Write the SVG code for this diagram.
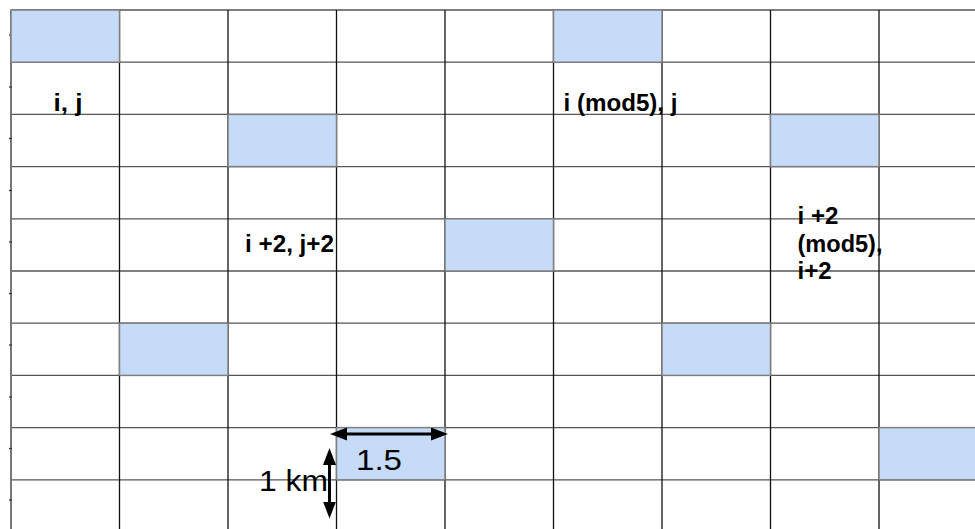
<svg xmlns="http://www.w3.org/2000/svg" width="975" height="529" viewBox="0 0 975 529">
<style>
.vl{stroke:#111;stroke-width:1.3}
.hl{stroke:#555;stroke-width:1.3}
.hi{fill:#c6dbf7;stroke:#808080;stroke-width:1.5}
.lbl{font-family:"Liberation Sans",Arial,sans-serif;font-weight:bold;font-size:23px;fill:#000}
.dim{font-family:"Liberation Sans",Arial,sans-serif;font-size:29px;fill:#000}
.arr{stroke:#000;stroke-width:3;fill:none}
.tick{stroke:#333;stroke-width:1.2}
</style>
<defs>
<marker id="ah" markerUnits="userSpaceOnUse" markerWidth="18" markerHeight="14" refX="9" refY="6.5" orient="auto-start-reverse">
<path d="M0,0 L17,6.5 L0,13 z" fill="#000"/>
</marker>
</defs>
<rect width="975" height="529" fill="#fff"/>
<g id="grid">
<line class="hl" x1="11" y1="10" x2="975" y2="10"/>
<line class="hl" x1="11" y1="62.2" x2="975" y2="62.2"/>
<line class="hl" x1="11" y1="114.4" x2="975" y2="114.4"/>
<line class="hl" x1="11" y1="166.6" x2="975" y2="166.6"/>
<line class="hl" x1="11" y1="218.8" x2="975" y2="218.8"/>
<line class="hl" x1="11" y1="271" x2="975" y2="271"/>
<line class="hl" x1="11" y1="323.2" x2="975" y2="323.2"/>
<line class="hl" x1="11" y1="375.4" x2="975" y2="375.4"/>
<line class="hl" x1="11" y1="427.6" x2="975" y2="427.6"/>
<line class="hl" x1="11" y1="479.8" x2="975" y2="479.8"/>
<line x1="11" y1="10" x2="11" y2="529" stroke="#777" stroke-width="2"/>
<line class="vl" x1="119.5" y1="10" x2="119.5" y2="529"/>
<line class="vl" x1="228" y1="10" x2="228" y2="529"/>
<line class="vl" x1="336.5" y1="10" x2="336.5" y2="529"/>
<line class="vl" x1="445" y1="10" x2="445" y2="529"/>
<line class="vl" x1="553.5" y1="10" x2="553.5" y2="529"/>
<line class="vl" x1="662" y1="10" x2="662" y2="529"/>
<line class="vl" x1="770.5" y1="10" x2="770.5" y2="529"/>
<line class="vl" x1="879" y1="10" x2="879" y2="529"/>
<line class="tick" x1="9" y1="35" x2="12" y2="35"/>
<line class="tick" x1="9" y1="87" x2="12" y2="87"/>
<line class="tick" x1="9" y1="138.5" x2="12" y2="138.5"/>
<line class="tick" x1="9" y1="190.5" x2="12" y2="190.5"/>
<line class="tick" x1="9" y1="242" x2="12" y2="242"/>
<line class="tick" x1="9" y1="293.5" x2="12" y2="293.5"/>
<line class="tick" x1="9" y1="345" x2="12" y2="345"/>
<line class="tick" x1="9" y1="397" x2="12" y2="397"/>
<line class="tick" x1="9" y1="448.5" x2="12" y2="448.5"/>
<line class="tick" x1="9" y1="500" x2="12" y2="500"/>
</g>
<g id="cells">
<rect class="hi" x="11" y="10" width="108.5" height="52.2"/>
<rect class="hi" x="553.5" y="10" width="108.5" height="52.2"/>
<rect class="hi" x="228" y="114.4" width="108.5" height="52.2"/>
<rect class="hi" x="770.5" y="114.4" width="108.5" height="52.2"/>
<rect class="hi" x="445" y="218.8" width="108.5" height="52.2"/>
<rect class="hi" x="119.5" y="323.2" width="108.5" height="52.2"/>
<rect class="hi" x="662" y="323.2" width="108.5" height="52.2"/>
<rect class="hi" x="336.5" y="427.6" width="108.5" height="52.2"/>
<rect class="hi" x="879" y="427.6" width="108.5" height="52.2"/>
</g>
<g id="labels">
<text class="lbl" x="53.5" y="111" textLength="29" lengthAdjust="spacingAndGlyphs">i, j</text>
<text class="lbl" x="563.5" y="111" textLength="114" lengthAdjust="spacingAndGlyphs">i (mod5), j</text>
<text class="lbl" x="245" y="252" textLength="89" lengthAdjust="spacingAndGlyphs">i +2, j+2</text>
<text class="lbl" x="797.5" y="224" textLength="41" lengthAdjust="spacingAndGlyphs">i +2</text>
<text class="lbl" x="797.5" y="252" textLength="85" lengthAdjust="spacingAndGlyphs">(mod5),</text>
<text class="lbl" x="797.5" y="279" textLength="34" lengthAdjust="spacingAndGlyphs">i+2</text>
</g>
<g id="connectors">
<line class="arr" x1="338" y1="434" x2="440" y2="434" marker-start="url(#ah)" marker-end="url(#ah)"/>
<line class="arr" x1="329.5" y1="456" x2="329.5" y2="510.5" marker-start="url(#ah)" marker-end="url(#ah)"/>
</g>
<g id="dims">
<text class="dim" x="356" y="470" textLength="46" lengthAdjust="spacingAndGlyphs">1.5</text>
<text class="dim" x="259" y="491" textLength="69" lengthAdjust="spacingAndGlyphs">1 km</text>
</g>
</svg>
